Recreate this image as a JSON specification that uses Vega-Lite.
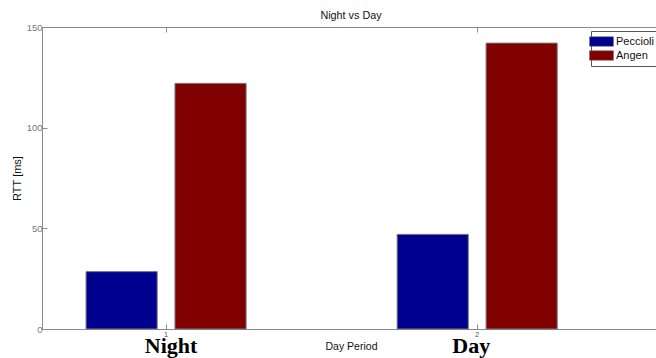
{
  "$schema": "https://vega.github.io/schema/vega-lite/v6.json",
  "autosize": {"type": "none"},
  "padding": {"left": 42, "top": 27, "right": 0, "bottom": 29},
  "width": 618,
  "height": 302,
  "background": "white",
  "title": {"text": "Night vs Day", "font": "Liberation Sans", "fontSize": 10.8, "fontWeight": "normal", "color": "#111", "offset": 1},
  "config": {
    "view": {"stroke": "#8a8a8a", "strokeWidth": 1},
    "axis": {"domainColor": "#8a8a8a", "tickColor": "#8a8a8a", "grid": false, "labelFont": "Liberation Sans", "titleFont": "Liberation Sans"}
  },
  "data": {
    "values": [
      {"period": "Night", "site": "Peccioli", "rtt": 28.5},
      {"period": "Night", "site": "Angen", "rtt": 122},
      {"period": "Day", "site": "Peccioli", "rtt": 47},
      {"period": "Day", "site": "Angen", "rtt": 142}
    ]
  },
  "layer": [
    {
      "mark": {"type": "bar", "stroke": "#7a7a7a", "strokeWidth": 1},
      "encoding": {
        "x": {
          "field": "period", "type": "nominal", "sort": ["Night", "Day"],
          "scale": {"paddingInner": 0.4855, "paddingOuter": 0.236, "align": 0.3},
          "axis": {"orient": "bottom", "labelExpr": "datum.value == 'Night' ? '1' : '2'", "labelAngle": 0, "labelFontSize": 7.5, "labelColor": "#555", "tickSize": -5, "labelPadding": 6, "title": "Day Period", "titleFontSize": 10.5, "titleFontWeight": "normal", "titleColor": "#111", "titlePadding": 4}
        },
        "xOffset": {"field": "site", "type": "nominal", "scale": {"domain": ["Peccioli", "Angen"], "paddingInner": 0.2, "paddingOuter": 0}},
        "y": {
          "field": "rtt", "type": "quantitative",
          "scale": {"domain": [0, 150], "nice": false},
          "axis": {"values": [0, 50, 100, 150], "tickSize": -5, "labelFontSize": 9.5, "labelColor": "#777", "labelPadding": 5, "title": "RTT [ms]", "titleFontSize": 11, "titleFontWeight": "normal", "titleColor": "#111", "titlePadding": 4}
        },
        "color": {
          "field": "site", "type": "nominal",
          "scale": {"domain": ["Peccioli", "Angen"], "range": ["#00008F", "#800000"]},
          "legend": {"title": null, "orient": "none", "legendX": 549, "legendY": 4, "strokeColor": "#555", "fillColor": "white", "padding": 4, "cornerRadius": 0, "symbolType": "M-2,-0.8H2V0.8H-2Z", "symbolSize": 144, "symbolStrokeColor": "#777", "symbolStrokeWidth": 0.5, "symbolOpacity": 1, "labelFont": "Liberation Sans", "labelFontSize": 11, "labelColor": "#111", "labelOffset": 8, "rowPadding": 1}
        }
      }
    },
    {
      "mark": {"type": "rule", "opacity": 0},
      "encoding": {
        "x": {
          "field": "period", "type": "nominal", "sort": ["Night", "Day"],
          "axis": {"orient": "bottom", "domain": false, "ticks": false, "labelAngle": 0, "labelFont": "Liberation Serif", "labelFontWeight": "bold", "labelFontSize": 22, "labelColor": "#000", "labelPadding": 6, "labelOffset": {"condition": {"test": "datum.value == 'Night'", "value": 5}, "value": -6}, "title": null}
        }
      }
    },
    {
      "mark": {"type": "rule", "opacity": 0},
      "encoding": {
        "x": {
          "field": "period", "type": "nominal", "sort": ["Night", "Day"],
          "axis": {"orient": "top", "domain": false, "tickSize": -5, "labels": false, "title": null}
        }
      }
    }
  ],
  "resolve": {"axis": {"x": "independent"}}
}
